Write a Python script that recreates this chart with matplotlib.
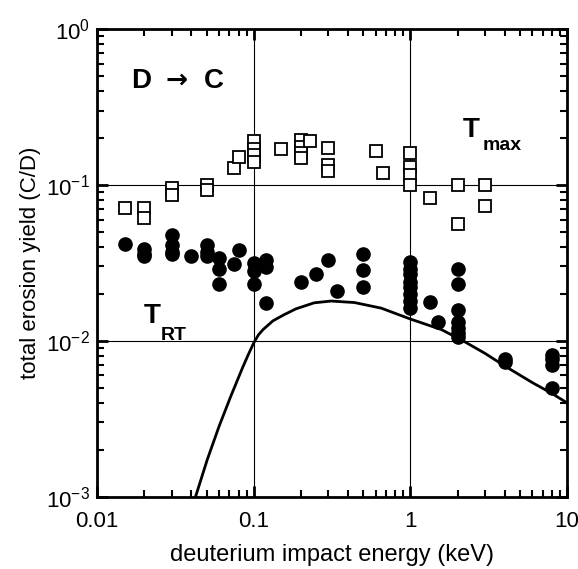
import numpy as np
import matplotlib
matplotlib.use("Agg")
import matplotlib.pyplot as plt

plt.rcParams['font.family'] = ['Liberation Sans', 'DejaVu Sans']

# T_max data (open squares)
tmax_energy = [0.015, 0.02, 0.02, 0.03, 0.03, 0.05, 0.05, 0.075, 0.08,
               0.1, 0.1, 0.1, 0.1, 0.15, 0.2, 0.2, 0.2, 0.2, 0.23,
               0.3, 0.3, 0.3, 0.6, 0.67, 1.0, 1.0, 1.0, 1.0, 1.33,
               2.0, 2.0, 3.0, 3.0]
tmax_yield = [0.071, 0.071, 0.061, 0.095, 0.086, 0.10, 0.093, 0.128, 0.152,
              0.19, 0.17, 0.155, 0.14, 0.17, 0.194, 0.176, 0.16, 0.148, 0.19,
              0.172, 0.134, 0.122, 0.164, 0.12, 0.16, 0.13, 0.115, 0.10, 0.082,
              0.10, 0.056, 0.10, 0.073]

# T_RT data (filled circles)
trt_energy = [0.015, 0.02, 0.02, 0.02, 0.03, 0.03, 0.03, 0.03, 0.04,
              0.05, 0.05, 0.05, 0.06, 0.06, 0.06, 0.08, 0.075,
              0.1, 0.1, 0.1, 0.12, 0.12, 0.12, 0.2, 0.25, 0.3, 0.34,
              0.5, 0.5, 0.5,
              1.0, 1.0, 1.0, 1.0, 1.0, 1.0, 1.0, 1.0,
              1.33, 1.5,
              2.0, 2.0, 2.0, 2.0, 2.0, 2.0, 2.0,
              4.0, 4.0, 8.0, 8.0, 8.0, 8.0]
trt_yield = [0.042, 0.039, 0.036, 0.035, 0.048, 0.041, 0.037, 0.036, 0.035,
             0.041, 0.037, 0.035, 0.034, 0.029, 0.023, 0.038, 0.031,
             0.0315, 0.028, 0.023, 0.033, 0.0297, 0.0176, 0.0238, 0.0267, 0.033, 0.021,
             0.036, 0.0285, 0.0223,
             0.032, 0.029, 0.027, 0.024, 0.022, 0.020, 0.018, 0.0163,
             0.0177, 0.0133,
             0.0288, 0.0232, 0.0158, 0.0133, 0.0121, 0.0112, 0.0106,
             0.0077, 0.0073, 0.0081, 0.0076, 0.0070, 0.0050]

# calculated curve
curve_energy = [0.0425, 0.0505, 0.060, 0.0713, 0.0846, 0.092, 0.1, 0.107, 0.1143,
                0.1325, 0.1556, 0.186, 0.243, 0.312, 0.44, 0.652, 1.0, 1.58,
                2.17, 3.0, 4.0, 6.0, 8.0, 10.0]
curve_yield = [0.001, 0.00173, 0.00282, 0.0044, 0.00668, 0.0081, 0.0097, 0.0109,
               0.01177, 0.01343, 0.01468, 0.01604, 0.01753, 0.0180, 0.0176, 0.0162,
               0.0138, 0.0118, 0.0100, 0.0083, 0.0069, 0.0054, 0.0046, 0.0040]

fig = plt.figure(figsize=(5.78, 5.69), dpi=100)
ax = fig.add_axes([0.168, 0.127, 0.813, 0.822])

ax.plot(curve_energy, curve_yield, color='black', lw=2, zorder=3)
ax.plot(tmax_energy, tmax_yield, ls='none', marker='s', ms=8.5, mfc='white',
        mec='black', mew=1.3, zorder=4)
ax.plot(trt_energy, trt_yield, ls='none', marker='o', ms=9.5, color='black', zorder=4)

ax.set_xscale('log')
ax.set_yscale('log')
ax.set_xlim(0.01, 10)
ax.set_ylim(1e-3, 1)

ax.set_xticks([0.01, 0.1, 1, 10])
ax.set_xticklabels(['0.01', '0.1', '1', '10'])
ax.grid(True, which='major', color='black', lw=0.8)

ax.tick_params(which='both', direction='in', top=True, right=True, labelsize=16)
ax.tick_params(which='major', length=8, width=2)
ax.tick_params(which='minor', length=5, width=1.5)
ax.tick_params(axis='x', pad=10)
ax.tick_params(axis='y', pad=5)
for s in ax.spines.values():
    s.set_linewidth(2)

ax.set_xlabel('deuterium impact energy (keV)', fontsize=17, labelpad=9)
ax.set_ylabel('total erosion yield (C/D)', fontsize=16, labelpad=4)

# labels inside the plot
ax.text(0.0165, 0.419, 'D', fontsize=20, fontweight='bold', va='baseline')
ax.text(0.0272, 0.419, '\u2192', fontsize=19, fontweight='bold', va='baseline',
        family=['DejaVu Sans'])
ax.text(0.0478, 0.419, 'C', fontsize=20, fontweight='bold', va='baseline')
ax.text(2.15, 0.203, 'T', fontsize=20, fontweight='bold', va='baseline')
ax.text(2.9, 0.168, 'max', fontsize=14, fontweight='bold', va='baseline')
ax.text(0.0198, 0.01304, 'T', fontsize=20, fontweight='bold', va='baseline')
ax.text(0.0256, 0.01014, 'RT', fontsize=14, fontweight='bold', va='baseline')

fig.savefig('out.png', dpi=100)
